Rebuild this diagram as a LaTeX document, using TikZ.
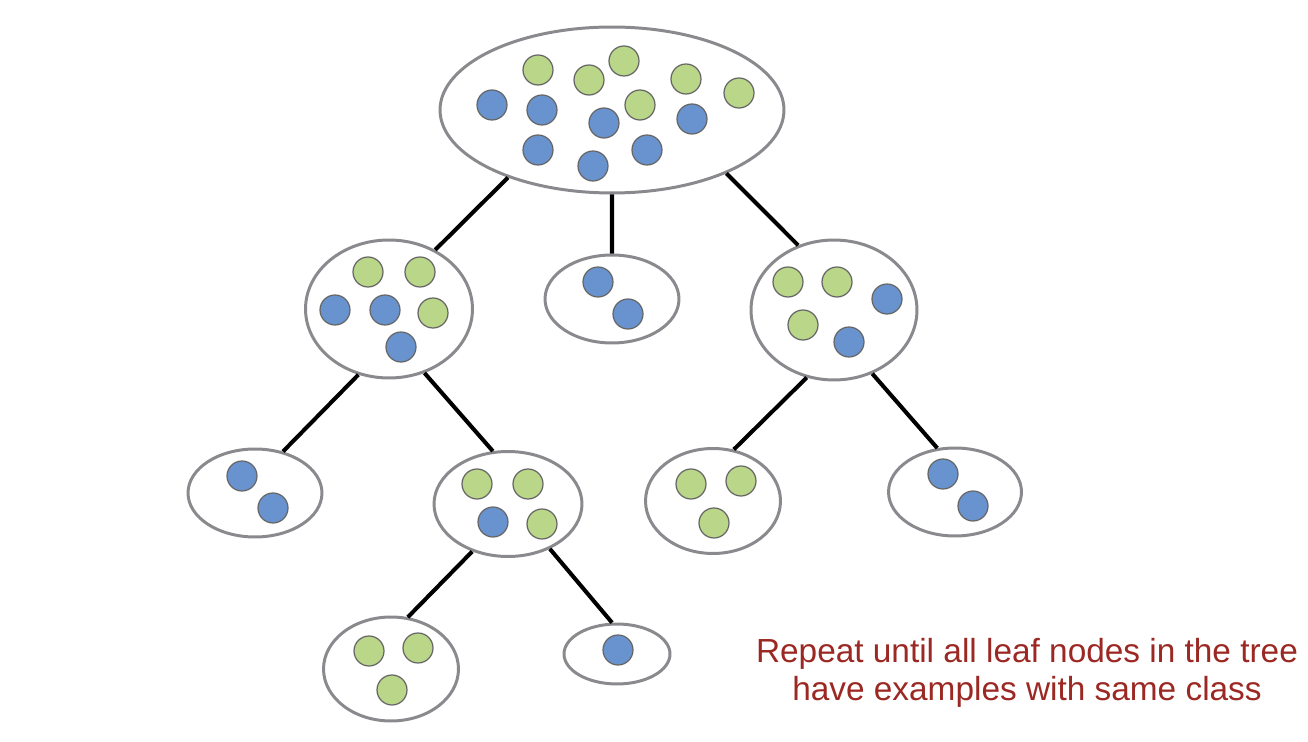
\documentclass[tikz,border=0pt]{standalone}
\usepackage{fontspec}
\setmainfont{Liberation Sans}
\usetikzlibrary{shapes.geometric}
\definecolor{grn}{RGB}{185,214,137}
\definecolor{blu}{RGB}{104,147,206}
\definecolor{rim}{RGB}{138,138,142}
\definecolor{note}{RGB}{155,40,35}

\begin{document}
\begin{tikzpicture}[x=0.02cm, y=-0.02cm,
  set/.style={ellipse, draw=rim, line width=1.7pt, fill=white, inner sep=0pt},
  dot/.style={circle, draw=black!60, line width=0.7pt, minimum size=0.6cm, inner sep=0pt},
  greendot/.style={dot, fill=grn},
  bluedot/.style={dot, fill=blu},
  branch/.style={line width=2.3pt}]
\useasboundingbox (0,0) rectangle (1308,742);

%root
\node[set, minimum width=6.88cm, minimum height=3.32cm] (root) at (612,110) {};

%first split
\node[set, minimum width=3.34cm, minimum height=2.76cm] (lc) at (389,309) {};
\node[set, minimum width=2.68cm, minimum height=1.76cm] (mc) at (612,299) {};
\node[set, minimum width=3.32cm, minimum height=2.8cm] (rc) at (834,310) {};

%second split
\node[set, minimum width=2.68cm, minimum height=1.76cm] (ll) at (255,493) {};
\node[set, minimum width=2.96cm, minimum height=2.1cm] (lr) at (508,504) {};
\node[set, minimum width=2.7cm, minimum height=2.1cm] (rl) at (713,501) {};
\node[set, minimum width=2.66cm, minimum height=1.76cm] (rr) at (955,492) {};

%third split
\node[set, minimum width=2.7cm, minimum height=2.08cm] (lrl) at (391,669) {};
\node[set, minimum width=2.12cm, minimum height=1.2cm] (lrr) at (617,654) {};

%branches
\draw[branch]
(root.213) -- (lc.52)
(root.-90) -- (mc.90)
(root.-29) -- (rc.119)
(lc.245) -- (ll.56)
(lc.-61) -- (lr.106)
(rc.248) -- (rl.68)
(rc.-59) -- (rr.112)
(lr.233) -- (lrl.72)
(lr.-47) -- (lrr.99)
;

%examples
\foreach \p [count=\i] in {(538,70),(589,80),(624,61),(686,79),(739,93),(640,105),
  (368,272),(420,272),(433,313),(788,282),(837,282),(803,325),
  (477,484),(528,484),(542,524),(691,484),(741,481),(714,523),
  (369,651),(418,648),(392,690)}
  \node[greendot] (g\i) at \p {};
\foreach \p [count=\i] in {(492,105),(542,110),(604,123),(692,119),(538,150),(593,166),(647,150),
  (335,310),(385,310),(401,347),(598,282),(628,314),(887,299),(849,342),
  (242,476),(273,508),(493,522),(943,474),(973,506),(618,650)}
  \node[bluedot] (b\i) at \p {};

%note
\node[text=note, font=\fontsize{19}{21.8}\selectfont, align=center] (rule) at (1027,673)
  {Repeat until all leaf nodes in the tree\\have examples with same class};
\end{tikzpicture}
\end{document}
